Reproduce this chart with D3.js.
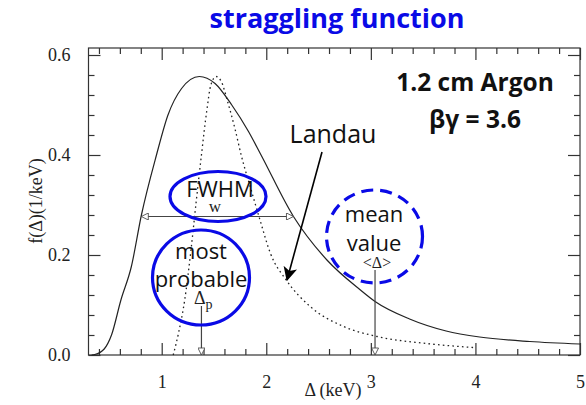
<!DOCTYPE html>
<html><head><meta charset="utf-8">
<script src="https://cdn.jsdelivr.net/npm/d3@7"></script>
<style>html,body{margin:0;padding:0;background:#fff;}svg{display:block;}</style>
</head><body>
<script>
// straggling function (solid)
const stragX = [0.33,0.36,0.45,0.52,0.61,0.71,0.805,0.95,1.06,1.19,1.36,1.51,1.67,1.83,1.95,2.26,2.58,2.90,3.04,3.37,3.72,4.04,4.52,5.0];
const stragY = [0.0,0.001,0.012,0.04,0.11,0.177,0.279,0.40,0.48,0.533,0.557,0.543,0.50,0.447,0.40,0.277,0.19,0.13,0.107,0.072,0.048,0.036,0.027,0.022];
// Landau (dotted)
const landauX = [1.11,1.16,1.22,1.28,1.33,1.38,1.43,1.47,1.52,1.57,1.63,1.70,1.76,1.86,1.94,2.04,2.19,2.42,2.74,3.06,3.53,3.98];
const landauY = [0.0,0.043,0.11,0.21,0.307,0.40,0.487,0.54,0.557,0.547,0.507,0.453,0.40,0.327,0.27,0.203,0.15,0.097,0.057,0.037,0.023,0.015];
const xMajorTicks = [1,2,3,4,5];
const yMajorTicks = [0.0,0.2,0.4,0.6];
const xMinorTicks = [0.4,0.6,0.8,1.2,1.4,1.6,1.8,2.2,2.4,2.6,2.8,3.2,3.4,3.6,3.8,4.2,4.4,4.6,4.8];
const yMinorTicks = [0.04,0.08,0.12,0.16,0.24,0.28,0.32,0.36,0.44,0.48,0.52,0.56];
// annotation values
const fwhm = {x0:0.805, x1:2.26, y:0.277};
const mostProbable = 1.38;
const meanValue = 3.04;

const W=586,H=405;
const svg=d3.select("body").append("svg").attr("width",W).attr("height",H);
const x=d3.scaleLinear().domain([0.3,5]).range([88.5,580]);
const y=d3.scaleLinear().domain([0,0.614]).range([355,48]);
const frameCol="#333";
const blue="#0a0ae6";
const serif="'Liberation Serif','Times New Roman',serif";
const sans="'Open Sans',sans-serif";

// title
svg.append("text").attr("x",337).attr("y",28).attr("text-anchor","middle")
  .attr("font-family",sans).attr("font-weight","bold").attr("font-size",27)
  .attr("fill",blue).text("straggling function");

const g=svg.append("g");
// frame
g.append("rect").attr("x",x(0.3)).attr("y",y(0.614)).attr("width",x(5)-x(0.3)).attr("height",y(0)-y(0.614))
  .attr("fill","none").attr("stroke",frameCol).attr("stroke-width",1.2);

// axes with inward ticks
const bottomMaj=d3.axisBottom(x).tickValues(xMajorTicks).tickSize(-12).tickFormat(d3.format("d")).tickPadding(20);
const bottomMin=d3.axisBottom(x).tickValues(xMinorTicks).tickSize(-6).tickFormat("");
const topMaj=d3.axisTop(x).tickValues(xMajorTicks).tickSize(-12).tickFormat("");
const topMin=d3.axisTop(x).tickValues(xMinorTicks).tickSize(-6).tickFormat("");
const leftMaj=d3.axisLeft(y).tickValues(yMajorTicks).tickSize(-12).tickFormat(d3.format(".1f")).tickPadding(18);
const leftMin=d3.axisLeft(y).tickValues(yMinorTicks).tickSize(-6).tickFormat("");
const rightMaj=d3.axisRight(y).tickValues(yMajorTicks).tickSize(-12).tickFormat("");
const rightMin=d3.axisRight(y).tickValues(yMinorTicks).tickSize(-6).tickFormat("");
function put(ax,tr){
  const a=g.append("g").attr("transform",tr).call(ax);
  a.select(".domain").remove();
  a.selectAll(".tick line").attr("stroke",frameCol).attr("stroke-width",1.2);
  a.selectAll("text").attr("font-family",serif).attr("font-size",18).attr("fill","#222");
  return a;
}
put(bottomMaj,`translate(0,${y(0)})`);
put(bottomMin,`translate(0,${y(0)})`);
put(topMaj,`translate(0,${y(0.614)})`);
put(topMin,`translate(0,${y(0.614)})`);
put(leftMaj,`translate(${x(0.3)},0)`);
put(leftMin,`translate(${x(0.3)},0)`);
put(rightMaj,`translate(${x(5)},0)`);
put(rightMin,`translate(${x(5)},0)`);

// axis labels
svg.append("text").attr("x",333).attr("y",396).attr("text-anchor","middle")
  .attr("font-family",serif).attr("font-size",18).attr("fill","#222").text("Δ (keV)");
svg.append("text").attr("transform","translate(42,201) rotate(-90)").attr("text-anchor","middle")
  .attr("font-family",serif).attr("font-size",18).attr("fill","#222").text("f(Δ)(1/keV)");

// curves
const line=d3.line().x(d=>x(d[0])).y(d=>y(d[1])).curve(d3.curveMonotoneX);
g.append("path").datum(stragX.map((v,i)=>[v,stragY[i]])).attr("d",line)
  .attr("fill","none").attr("stroke","#222").attr("stroke-width",1.2);
g.append("path").datum(landauX.map((v,i)=>[v,landauY[i]])).attr("d",line)
  .attr("fill","none").attr("stroke","#222").attr("stroke-width",1.3).attr("stroke-dasharray","1.6,3.2");

// open arrowheads
const defs=svg.append("defs");
defs.append("marker").attr("id","open").attr("viewBox","0 0 10 10").attr("refX",10).attr("refY",5)
  .attr("markerWidth",9).attr("markerHeight",7).attr("markerUnits","userSpaceOnUse").attr("orient","auto-start-reverse")
  .append("path").attr("d","M0,0 L10,5 L0,10 Z").attr("fill","#fff").attr("stroke","#444").attr("stroke-width",1.2);
defs.append("marker").attr("id","solid").attr("viewBox","0 0 12 12").attr("refX",11).attr("refY",6)
  .attr("markerWidth",14).attr("markerHeight",14).attr("markerUnits","userSpaceOnUse").attr("orient","auto")
  .append("path").attr("d","M0,0 L12,6 L0,12 L3,6 Z").attr("fill","#000");

// FWHM arrow
g.append("line").attr("x1",x(fwhm.x0)).attr("x2",x(fwhm.x1)).attr("y1",y(fwhm.y)).attr("y2",y(fwhm.y))
  .attr("stroke","#444").attr("stroke-width",1.2).attr("marker-start","url(#open)").attr("marker-end","url(#open)");
svg.append("text").attr("x",215).attr("y",212).attr("text-anchor","middle").attr("font-family",serif)
  .attr("font-size",17).attr("fill","#222").text("w");
// most probable arrow
g.append("line").attr("x1",x(mostProbable)).attr("x2",x(mostProbable)).attr("y1",306).attr("y2",y(0))
  .attr("stroke","#444").attr("stroke-width",1.2).attr("marker-end","url(#open)");
const dp=svg.append("text").attr("x",194).attr("y",304).attr("font-family",serif).attr("font-size",18).attr("fill","#222");
dp.append("tspan").text("Δ");
dp.append("tspan").attr("font-size",14).attr("dy",5).text("p");
// mean arrow
g.append("line").attr("x1",x(meanValue)).attr("x2",x(meanValue)).attr("y1",270).attr("y2",y(0))
  .attr("stroke","#444").attr("stroke-width",1.2).attr("marker-end","url(#open)");
svg.append("text").attr("x",377).attr("y",268).attr("text-anchor","middle").attr("font-family",serif)
  .attr("font-size",16).attr("fill","#222").text("<Δ>");

// Landau label + arrow
svg.append("text").attr("x",333).attr("y",143).attr("text-anchor","middle").attr("font-family",sans)
  .attr("font-size",25).attr("fill","#111").text("Landau");
svg.append("line").attr("x1",322).attr("y1",152).attr("x2",287).attr("y2",280)
  .attr("stroke","#000").attr("stroke-width",1.6).attr("marker-end","url(#solid)");

// ellipses
svg.append("ellipse").attr("cx",218).attr("cy",196.5).attr("rx",48).attr("ry",25)
  .attr("fill","none").attr("stroke",blue).attr("stroke-width",3.2);
svg.append("ellipse").attr("cx",201).attr("cy",277.5).attr("rx",48.5).attr("ry",47.5)
  .attr("fill","none").attr("stroke",blue).attr("stroke-width",3.2);
svg.append("ellipse").attr("cx",374.5).attr("cy",236.5).attr("rx",48).attr("ry",46.5)
  .attr("fill","none").attr("stroke",blue).attr("stroke-width",3.2).attr("stroke-dasharray","12,7");

// annotation texts
function txt(t,xx,yy,size){svg.append("text").attr("x",xx).attr("y",yy).attr("text-anchor","middle")
  .attr("font-family",sans).attr("font-size",size).attr("fill","#111").text(t);}
txt("FWHM",220,197,22);
txt("most",201,259,22);
txt("probable",201,287,22);
txt("mean",374,222,22);
txt("value",374,251,22);

svg.append("text").attr("x",475).attr("y",91).attr("text-anchor","middle").attr("font-family",sans)
  .attr("font-weight","bold").attr("font-size",24.5).attr("fill","#111").text("1.2 cm Argon");
svg.append("text").attr("x",475).attr("y",128).attr("text-anchor","middle").attr("font-family",sans)
  .attr("font-weight","bold").attr("font-size",24.5).attr("fill","#111").text("βγ = 3.6");
</script>
</body></html>
